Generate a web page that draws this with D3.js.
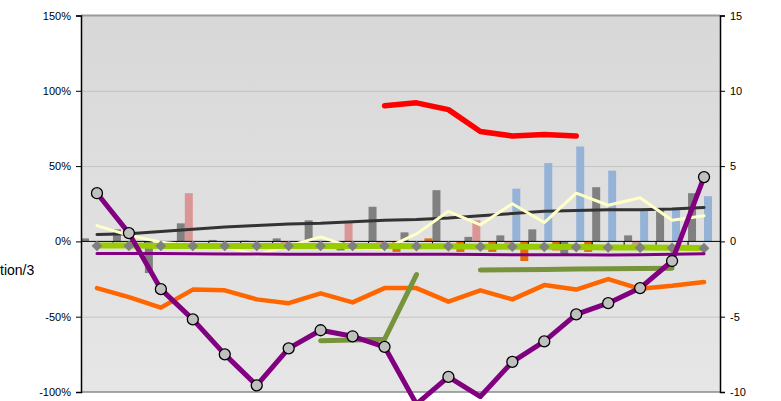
<!DOCTYPE html>
<html>
<head>
<meta charset="utf-8">
<script src="https://cdn.jsdelivr.net/npm/d3@7"></script>
<style>
  body { margin: 0; background: #fff; }
  svg { display: block; font-family: "Liberation Sans", Arial, sans-serif; }
</style>
</head>
<body>
<div id="chart"></div>
<script>
// categories (no labels shown on the x axis)
const categories = ["c1","c2","c3","c4","c5","c6","c7","c8","c9","c10",
                    "c11","c12","c13","c14","c15","c16","c17","c18","c19","c20"];

// bar series, percent (left axis)
const barGray   = [2, 8, -21, 12, 1, 0.5, 2, 14, -6, 23, 6, 34, 3, 4, 8, -9, 36, 4, 21, 32];
const barPink   = [0, 0, 0, 32, 0, 0, -2, 0, 13, -2, 0, 0, 14, -5, 0, 0, 0, -3, 0, 0];
const barBlue   = [0, 0, 0, 0, 0, 0, 0, 0, 0, 0, 0, 0, 0, 35, 52, 63, 47, 21, 21, 30];
const barOrange = [0, 0, 0, 0, 0, 0, 0, 0, 0, -7, 2, -7, -7, -13, -6, -7, 0, 0, 0, 0];

// line series, percent (left axis)
const trendDark  = [4.6, 5, 6.5, 8, 9.5, 10.5, 11.5, 12, 13, 14, 14.5, 15.5, 17, 18.5, 20, 20.5, 21, 21, 21.5, 22.5];
const lightLine  = [10.5, 4, -0.5, -2.5, -3.5, -9, -3, 3, -4, -5, 5, 20, 11, 25, 12.5, 32, 24, 29, 14, 17];
const greenLine  = [-2.8, -2.8, -3, -3, -3, -3, -3, -3, -3, -3, -3.2, -3.3, -3.5, -3.5, -3.6, -3.8, -4, -4, -4.2, -4.3];
const diamonds   = [-3, -3, -3, -3, -3, -3, -3, -3, -3, -3, -3.2, -3.3, -3.5, -3.5, -3.6, -3.8, -4, -4.2, -4.3, -4.5];
const purpleThin = [-8, -8, -8, -8.2, -8.3, -8.4, -8.5, -8.5, -8.5, -8.5, -8.5, -8.6, -8.7, -8.8, -8.8, -8.8, -9, -8.8, -8.5, -8.2];
const orangeLine = [-31, -37, -44, -32, -32.5, -38.5, -41, -34.5, -40.5, -31, -31, -40, -32.5, -38.5, -29, -32, -25, -31.5, -29.5, -27];
const redLine    = [null, null, null, null, null, null, null, null, null, 90, 92, 87.5, 73, 70, 71, 70, null, null, null, null];
const oliveLine  = [null, null, null, null, null, null, null, -66, -65.5, -65, -22, null, -19, -18.8, -18.6, -18.4, -18.2, -18, -17.8, null];

// purple line with markers (right axis units)
const purpleMain = [3.2, 0.55, -3.17, -5.18, -7.5, -9.56, -7.1, -5.9, -6.3, -7.0, -10.8, -9.0, -10.3, -8.0, -6.64, -4.85, -4.1, -3.1, -1.3, 4.27];

const leftTicks  = [150, 100, 50, 0, -50, -100];
const rightTicks = [15, 10, 5, 0, -5, -10];
const gridTicks  = [100, 50, -50];

const width = 781, height = 401;
const plot = {left: 81, right: 720, top: 15.5, bottom: 392};

const svg = d3.select("#chart").append("svg")
    .attr("width", width)
    .attr("height", height);

let grad = svg.append("defs").append("linearGradient")
    .attr("id", "bg").attr("x1", 0).attr("y1", 0).attr("x2", 0).attr("y2", 1);
grad.append("stop").attr("offset", "0%").attr("stop-color", "#d8d8d8");
grad.append("stop").attr("offset", "100%").attr("stop-color", "#e6e6e6");

let x = d3.scaleBand().domain(categories).range([plot.left, plot.right]).padding(0);
let xb = d3.scaleBand().domain(["gray", "pink", "blue", "orange"]).range([0, x.bandwidth()]).padding(0);
let y = d3.scaleLinear().domain([-100, 150]).range([plot.bottom, plot.top]);
let yR = d3.scaleLinear().domain([-10, 15]).range([plot.bottom, plot.top]);
let cx = i => x(categories[i]) + x.bandwidth() / 2;

svg.append("rect")
    .attr("x", plot.left).attr("y", plot.top)
    .attr("width", plot.right - plot.left).attr("height", plot.bottom - plot.top)
    .attr("fill", "url(#bg)");

// gridlines
svg.selectAll(".grid").data(gridTicks).enter().append("line")
    .attr("x1", plot.left).attr("x2", plot.right)
    .attr("y1", d => y(d) + 0.5).attr("y2", d => y(d) + 0.5)
    .attr("stroke", "#c4c4c4");
svg.append("line")
    .attr("x1", plot.left).attr("x2", plot.right)
    .attr("y1", plot.top).attr("y2", plot.top)
    .attr("stroke", "#9a9a9a").attr("stroke-width", 2);
svg.append("line")
    .attr("x1", plot.left).attr("x2", plot.right)
    .attr("y1", plot.bottom).attr("y2", plot.bottom)
    .attr("stroke", "#8a8a8a").attr("stroke-width", 1.5);

// bars
let barSeries = [
    {key: "gray", values: barGray, color: "#808080"},
    {key: "pink", values: barPink, color: "#da9694"},
    {key: "blue", values: barBlue, color: "#95b3d7"},
    {key: "orange", values: barOrange, color: "#e46c0a"}
];
barSeries.forEach(function(s) {
    svg.append("g").selectAll("rect")
        .data(s.values).enter().append("rect")
        .attr("x", (d, i) => x(categories[i]) + xb(s.key))
        .attr("width", xb.bandwidth())
        .attr("y", d => y(Math.max(0, d)))
        .attr("height", d => Math.abs(y(d) - y(0)))
        .attr("fill", s.color);
});

// zero line + category ticks
svg.append("line")
    .attr("x1", plot.left).attr("x2", plot.right)
    .attr("y1", y(0)).attr("y2", y(0))
    .attr("stroke", "#000").attr("stroke-width", 1);
svg.selectAll(".ctick").data(categories.slice(1)).enter().append("line")
    .attr("x1", d => x(d)).attr("x2", d => x(d))
    .attr("y1", y(0)).attr("y2", y(0) + 4)
    .attr("stroke", "#000");

function drawLine(values, color, w, scale) {
    let line = d3.line()
        .defined(d => d != null)
        .x((d, i) => cx(i))
        .y(d => (scale || y)(d));
    svg.append("path")
        .datum(values)
        .attr("d", line)
        .attr("fill", "none")
        .attr("stroke", color)
        .attr("stroke-width", w)
        .attr("stroke-linejoin", "round")
        .attr("stroke-linecap", "round");
}

drawLine(trendDark, "#333333", 3);
drawLine(lightLine, "#ffffc8", 3);
drawLine(greenLine, "#99cc00", 6);

svg.append("g").selectAll("path")
    .data(diamonds).enter().append("path")
    .attr("d", d3.symbol(d3.symbolSquare, 58))
    .attr("transform", (d, i) => "translate(" + cx(i) + "," + y(d) + ") rotate(45)")
    .attr("fill", "#808080");

drawLine(purpleThin, "#800080", 3);
drawLine(orangeLine, "#ff6600", 4.5);
drawLine(oliveLine, "#77933c", 5);
drawLine(redLine, "#ff0000", 5.5);
drawLine(purpleMain, "#800080", 5, yR);

// markers only where the point is inside the plot
let markerPts = purpleMain.map((v, i) => ({v: v, i: i})).filter(p => p.v >= -10);
svg.append("g").selectAll("circle")
    .data(markerPts).enter().append("circle")
    .attr("cx", p => cx(p.i))
    .attr("cy", p => yR(p.v))
    .attr("r", 5.5)
    .attr("fill", "#c0c0c0")
    .attr("stroke", "#000")
    .attr("stroke-width", 1.3);

// axes
let leftAxis = d3.axisLeft(y).tickValues(leftTicks).tickSize(5).tickFormat(d => d + "%");
let gl = svg.append("g").attr("transform", "translate(" + plot.left + ",0)").call(leftAxis);
let rightAxis = d3.axisRight(yR).tickValues(rightTicks).tickSize(5).tickFormat(d => d);
let gr = svg.append("g").attr("transform", "translate(" + plot.right + ",0)").call(rightAxis);
[gl, gr].forEach(function(g) {
    g.select(".domain").attr("stroke", "#000").attr("stroke-width", 1.5);
    g.selectAll(".tick line").attr("stroke", "#000");
    g.selectAll("text")
        .attr("fill", "#000")
        .style("font-size", "11px")
        .style("font-family", "'Liberation Sans', Arial, sans-serif");
});
gl.selectAll("text").attr("x", -10);
gr.selectAll("text").attr("x", 10);

// visible part of the left axis title
svg.append("text")
    .attr("x", 0).attr("y", 275)
    .style("font-size", "14px")
    .text("tion/3");
</script>
</body>
</html>
